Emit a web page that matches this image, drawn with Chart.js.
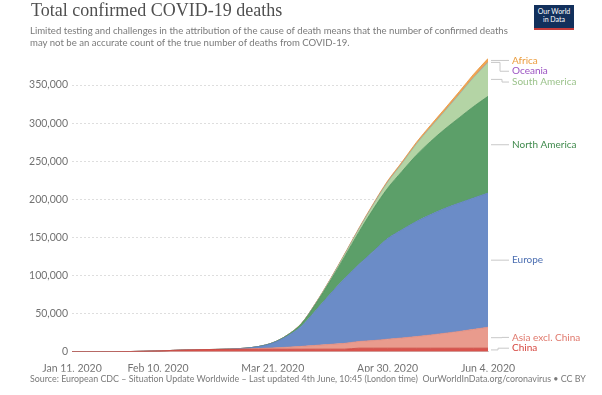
<!DOCTYPE html>
<html>
<head>
<meta charset="utf-8">
<script src="https://cdn.jsdelivr.net/npm/chart.js@4.4.1/dist/chart.umd.min.js"></script>
<style>
  body { margin: 0; background: #fff; font-family: Lato, "Liberation Sans", sans-serif; }
  #wrap { position: relative; width: 602px; height: 395px; overflow: hidden; }
  #chart { position: absolute; left: 0; top: 0; }
  #title { position: absolute; left: 31px; top: 0px; font: 18px "Liberation Serif", serif; color: #4f4f4f; white-space: nowrap; }
  #subtitle { position: absolute; left: 30px; top: 25px; font-size: 9.6px; line-height: 11.5px; color: #7a7a7a; white-space: nowrap; }
  #logo { position: absolute; left: 534px; top: 5px; width: 40px; height: 21px; background: #12305c; border-bottom: 2px solid #c43b3b;
          color: #fff; font-size: 7px; line-height: 8px; text-align: center; padding-top: 2px; box-sizing: content-box; }
  #source { position: absolute; left: 30px; top: 373px; font-size: 8.9px; color: #7a7a7a; white-space: nowrap; }
</style>
</head>
<body>
<div id="wrap">
  <canvas id="chart" width="602" height="395"></canvas>
  <div id="title">Total confirmed COVID-19 deaths</div>
  <div id="subtitle">Limited testing and challenges in the attribution of the cause of death means that the number of confirmed deaths<br>may not be an accurate count of the true number of deaths from COVID-19.</div>
  <div id="logo">Our World<br>in Data</div>
  <div id="source">Source: European CDC – Situation Update Worldwide – Last updated 4th June, 10:45 (London time)&nbsp;&nbsp;OurWorldInData.org/coronavirus • CC BY</div>
</div>
<script>
// cumulative confirmed deaths, sampled every 5 days
const dates = ['2020-01-11','2020-01-16','2020-01-21','2020-01-26','2020-01-31','2020-02-05','2020-02-10','2020-02-15','2020-02-20','2020-02-25',
               '2020-03-01','2020-03-06','2020-03-11','2020-03-16','2020-03-21','2020-03-26','2020-03-31','2020-04-05','2020-04-10','2020-04-15',
               '2020-04-20','2020-04-25','2020-04-30','2020-05-05','2020-05-10','2020-05-15','2020-05-20','2020-05-25','2020-05-30','2020-06-04'];

const china = [1,2,9,56,213,564,1017,1666,2236,2663,2870,3042,3161,3217,3261,3292,3309,3330,3339,3342,4636,4632,4633,4633,4633,4633,4634,4634,4634,4634];
const asiaExChina = [0,0,0,0,0,1,1,2,4,30,80,180,420,900,1700,2600,3700,5000,6300,7600,8800,10000,11800,13400,15200,17300,19600,22000,24700,27500];
const europe = [0,0,0,0,0,0,0,1,1,10,35,200,900,2600,6500,14500,26500,46000,66000,85000,101000,117000,132000,142000,151000,158000,164000,168500,172500,176000];
const northAmerica = [0,0,0,0,0,0,0,0,0,0,1,12,30,85,300,1100,3200,8500,17000,28500,42500,55500,66000,76500,87000,96000,104000,112000,120000,127000];
const southAmerica = [0,0,0,0,0,0,0,0,0,0,0,0,0,2,30,120,350,900,1700,2700,3900,5500,7800,10200,14300,18500,23600,30500,38000,44500];
const oceania = [0,0,0,0,0,0,0,0,0,0,1,2,3,5,7,13,20,35,51,72,86,97,112,117,118,119,122,124,125,126];
const africa = [0,0,0,0,0,0,0,0,0,0,0,0,2,15,40,110,230,400,650,900,1150,1400,1700,1980,2350,2750,3200,3600,4300,5000];

const tickDates = ['2020-01-11','2020-02-10','2020-03-21','2020-04-30','2020-06-04'];
const tickLabels = ['Jan 11, 2020','Feb 10, 2020','Mar 21, 2020','Apr 30, 2020','Jun 4, 2020'];
const yTicks = [0, 50000, 100000, 150000, 200000, 250000, 300000, 350000];

const dayMs = 86400000;
const start = new Date(dates[0]).getTime();
const toDay = d => Math.round((new Date(d).getTime() - start) / dayMs);
const days = dates.map(toDay);
const tickDays = tickDates.map(toDay);

// bottom to top
const series = [
  { name: 'China', values: china, fill: '#d9534c', line: '#c9453e', text: '#d6463f' },
  { name: 'Asia excl. China', values: asiaExChina, fill: '#e99b8d', line: '#e08a7c', text: '#e0786c' },
  { name: 'Europe', values: europe, fill: '#6b8cc7', line: '#5d7fbc', text: '#4b6eb1' },
  { name: 'North America', values: northAmerica, fill: '#5c9f69', line: '#4f935c', text: '#3f8a4c' },
  { name: 'South America', values: southAmerica, fill: '#b4d4a5', line: '#a5c995', text: '#9cc38c' },
  { name: 'Oceania', values: oceania, fill: '#a461c4', line: '#9a55bb', text: '#9b52c2' },
  { name: 'Africa', values: africa, fill: '#f0a552', line: '#e6963c', text: '#eb9d3f' }
];

const regionLabels = {
  id: 'regionLabels',
  afterDatasetsDraw(chart) {
    const { ctx, chartArea, scales } = chart;
    const y = scales.y;
    const last = days.length - 1;
    let cum = 0;
    const items = series.map(s => {
      const v = s.values[last];
      const mid = cum + v / 2;
      cum += v;
      return { name: s.name, color: s.text, anchor: y.getPixelForValue(mid) };
    }).reverse();
    const gap = 10.8;
    let prev = -Infinity;
    items.forEach(it => { it.y = Math.max(it.anchor, prev + gap); prev = it.y; });
    let next = chartArea.bottom - 3.5 + gap;
    for (let i = items.length - 1; i >= 0; i--) {
      items[i].y = Math.min(items[i].y, next - gap);
      next = items[i].y;
    }
    ctx.save();
    ctx.font = '10px Lato';
    ctx.textBaseline = 'middle';
    ctx.strokeStyle = '#c8c8c8';
    ctx.lineWidth = 1;
    items.forEach((it, i) => {
      const x0 = chartArea.right + 3;
      const xe = x0 + 7 + (i % 3) * 2;
      const x1 = 509;
      ctx.beginPath();
      ctx.moveTo(x0, it.anchor);
      ctx.lineTo(xe, it.anchor);
      ctx.lineTo(xe, it.y);
      ctx.lineTo(x1, it.y);
      ctx.stroke();
      ctx.fillStyle = it.color;
      ctx.fillText(it.name, 512, it.y);
    });
    ctx.restore();
  }
};

const datasets = series.map((s, i) => ({
  label: s.name,
  data: s.values.map((v, j) => ({ x: days[j], y: v })),
  backgroundColor: s.fill,
  borderColor: s.line,
  borderWidth: 0.8,
  pointRadius: 0,
  fill: i === 0 ? 'origin' : '-1',
  cubicInterpolationMode: 'monotone'
}));

Chart.defaults.font.family = 'Lato';

new Chart(document.getElementById('chart'), {
  type: 'line',
  data: { datasets },
  options: {
    responsive: false,
    animation: false,
    layout: { padding: { left: 0, right: 114, top: 57.6, bottom: 23.3 } },
    plugins: { legend: { display: false }, tooltip: { enabled: false } },
    scales: {
      x: {
        type: 'linear',
        min: 0,
        max: days[days.length - 1],
        grid: { display: false },
        border: { display: true, color: '#cfcfcf' },
        afterBuildTicks: scale => { scale.ticks = tickDays.map(v => ({ value: v })); },
        afterFit: scale => { scale.height = 20; },
        ticks: {
          autoSkip: false,
          maxRotation: 0,
          padding: 3,
          color: '#727272',
          font: { size: 10.5 },
          callback: v => tickLabels[tickDays.indexOf(v)]
        }
      },
      y: {
        stacked: true,
        min: 0,
        max: 386000,
        afterBuildTicks: scale => { scale.ticks = yTicks.map(v => ({ value: v })); },
        afterFit: scale => { scale.width = 72; },
        grid: { color: '#dedede', drawTicks: false },
        border: { display: false, dash: [2, 2] },
        ticks: {
          autoSkip: false,
          padding: 4,
          color: '#727272',
          font: { size: 10.5 },
          callback: v => v.toLocaleString('en-US')
        }
      }
    }
  },
  plugins: [regionLabels]
});
</script>
</body>
</html>
